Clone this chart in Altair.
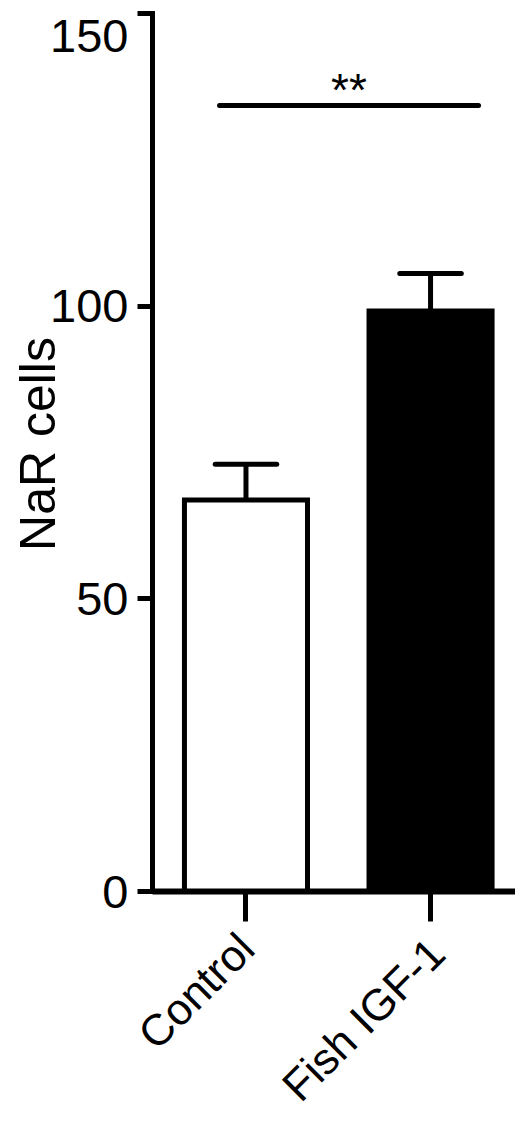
import altair as alt
import pandas as pd

# ---- data ----
groups = ["Control", "Fish IGF-1"]
means = [66.8, 99.1]
sems = [6.1, 6.4]
y_ticks = [0, 50, 100, 150]
y_domain = [0, 150]
y_title = "NaR cells"
sig_from = ["Control"]
sig_to = ["Fish IGF-1"]
sig_level = [134.2]
sig_text = ["**"]

bars_df = pd.DataFrame({
    "group": groups,
    "mean": means,
    "upper": [m + s for m, s in zip(means, sems)],
})
sig_df = pd.DataFrame({"start": sig_from, "end": sig_to,
                       "level": sig_level, "label": sig_text})

FONT = "Liberation Sans"
W, H = 363, 878

xscale = alt.Scale(domain=groups, paddingInner=0.3333, paddingOuter=0.15, align=0.586)
yscale = alt.Scale(domain=y_domain, nice=False)

x_axis = alt.Axis(
    title=None,
    labelAngle=-45,
    labelAlign="right",
    labelBaseline="middle",
    labelFont=FONT,
    labelFontSize=44,
    labelColor="black",
    labelLimit=600,
    labelOverlap=False,
    labelPadding={"condition": {"test": "datum.value === 'Fish IGF-1'", "value": 26}, "value": 21},
    labelOffset={"condition": {"test": "datum.value === 'Fish IGF-1'", "value": 8}, "value": 2},
    tickSize=30,
    tickWidth=5,
    tickColor="black",
    domainWidth=6,
    domainColor="black",
    grid=False,
)

y_axis = alt.Axis(
    values=y_ticks,
    title=y_title,
    titleFont=FONT,
    titleFontSize=50,
    titleFontWeight="normal",
    titleColor="black",
    titleAngle=270,
    titleAlign="center",
    titleBaseline="alphabetic",
    titleX=-98,
    titleY=430.5,
    labelFont=FONT,
    labelFontSize=47,
    labelColor="black",
    labelPadding=9,
    labelFlush=False,
    labelOffset={"condition": {"test": "datum.value === 150", "value": 24}, "value": 2},
    tickSize=15,
    tickWidth=5,
    tickColor="black",
    domainWidth=5,
    domainColor="black",
    domainCap="square",
    grid=False,
)

base = alt.Chart(bars_df)

bars = base.mark_bar(stroke="black", strokeWidth=5).encode(
    x=alt.X("group:N", scale=xscale, axis=x_axis, sort=groups),
    y=alt.Y("mean:Q", scale=yscale, axis=y_axis),
    fill=alt.Fill("group:N", scale=alt.Scale(domain=groups, range=["white", "black"]),
                  legend=None),
)

err_v = base.mark_rule(color="black", strokeWidth=5).encode(
    x=alt.X("group:N"),
    y=alt.Y("mean:Q"),
    y2="upper:Q",
)

err_cap = base.mark_rule(color="black", strokeWidth=5, strokeCap="round").encode(
    x=alt.X("group:N", bandPosition=0.25),
    x2=alt.X2("group:N", bandPosition=0.75),
    y=alt.Y("upper:Q"),
)

sig_line = alt.Chart(sig_df).mark_rule(color="black", strokeWidth=5, strokeCap="round").encode(
    x=alt.X("start:N", bandPosition=0.285),
    x2=alt.X2("end:N", bandPosition=0.89),
    y=alt.Y("level:Q"),
)

sig_label = alt.Chart(sig_df).mark_text(
    font=FONT, fontSize=46, color="black", align="center", baseline="alphabetic",
    dx=-20, dy=1
).encode(
    x=alt.X("end:N", bandPosition=0),
    y=alt.Y("level:Q"),
    text="label:N",
)

chart = alt.layer(bars, err_v, err_cap, sig_line, sig_label).properties(
    width=W,
    height=H,
    padding={"left": 144, "top": 5, "right": 0, "bottom": 222},
    autosize=alt.AutoSizeParams(type="none"),
    background="white",
).configure_view(stroke=None)

chart.save("out.html", embed_options={"renderer": "svg", "actions": False})
